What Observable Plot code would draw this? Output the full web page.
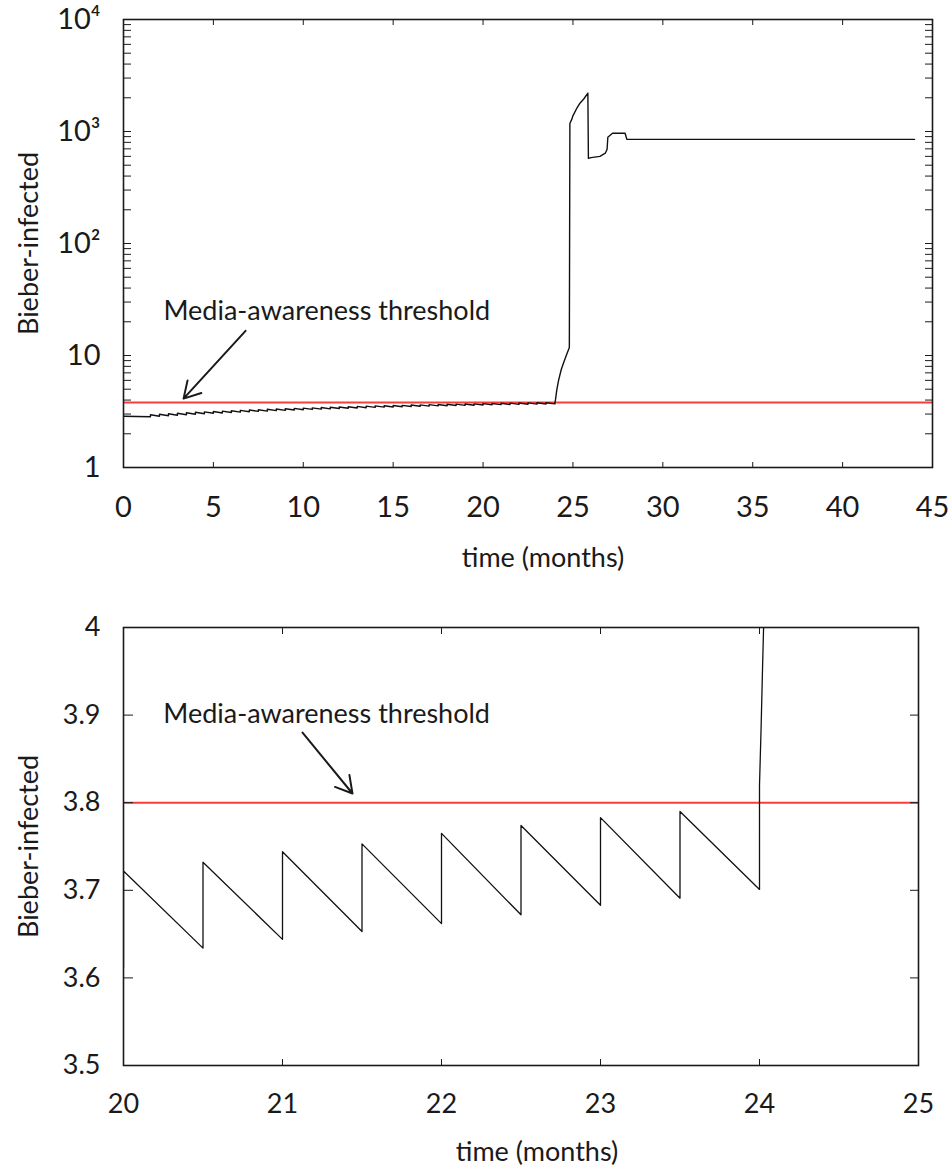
<!DOCTYPE html>
<html>
<head>
<meta charset="utf-8">
<script src="https://cdn.jsdelivr.net/npm/d3@7"></script>
<script src="https://cdn.jsdelivr.net/npm/@observablehq/plot@0.6"></script>
<style>
  body { margin: 0; background: #fff; }
  #chart svg { display: block; }
</style>
</head>
<body>
<div id="chart"></div>
<script>
// ---- data ----
const leadTime = [0];
const leadValue = [2.87];

const toothTime = [1.5, 2, 2.5, 3, 3.5, 4, 4.5, 5, 5.5, 6, 6.5, 7, 7.5, 8, 8.5, 9, 9.5, 10, 10.5, 11, 11.5, 12, 12.5, 13, 13.5, 14, 14.5, 15, 15.5, 16, 16.5, 17, 17.5, 18, 18.5, 19, 19.5, 20, 20.5, 21, 21.5, 22, 22.5, 23, 23.5];
const toothLow = [2.84, 2.87, 2.90, 2.93, 2.96, 2.99, 3.02, 3.05, 3.07, 3.10, 3.12, 3.15, 3.17, 3.19, 3.22, 3.24, 3.26, 3.28, 3.30, 3.32, 3.34, 3.36, 3.38, 3.40, 3.42, 3.44, 3.46, 3.47, 3.49, 3.50, 3.52, 3.53, 3.55, 3.56, 3.58, 3.59, 3.60, 3.612, 3.634, 3.644, 3.653, 3.662, 3.672, 3.683, 3.691];
const toothHigh = [2.96, 2.99, 3.02, 3.05, 3.08, 3.11, 3.14, 3.16, 3.19, 3.21, 3.24, 3.26, 3.28, 3.31, 3.33, 3.35, 3.37, 3.39, 3.41, 3.43, 3.45, 3.47, 3.49, 3.51, 3.53, 3.55, 3.56, 3.58, 3.59, 3.61, 3.62, 3.64, 3.65, 3.67, 3.68, 3.69, 3.702, 3.722, 3.732, 3.744, 3.753, 3.765, 3.774, 3.783, 3.790];

const surgeTime = [24.0, 24.0, 24.01, 24.02, 24.03, 24.1, 24.2, 24.35, 24.5, 24.65, 24.8, 24.83, 24.94, 25.0, 25.22, 25.39, 25.6, 25.83, 25.86, 26.0, 26.5, 26.8, 26.9, 26.94, 27.2, 27.9, 28.0, 44.0];
const surgeValue = [3.701, 3.82, 3.885, 3.96, 4.03, 4.9, 6.0, 7.5, 8.8, 10.2, 11.8, 1180, 1290, 1380, 1620, 1790, 1950, 2200, 575, 585, 600, 640, 695, 890, 965, 965, 850, 850];

const threshold = 3.8;
const annotationText = "Media-awareness threshold";

// tick values / labels
const topXTicks = [0, 5, 10, 15, 20, 25, 30, 35, 40, 45];
const topYMajor = [1, 10, 100, 1000, 10000];
const topYLabels = ["1", "10", "10²", "10³", "10⁴"];
const bottomXTicks = [20, 21, 22, 23, 24, 25];
const bottomXLabels = ["20", "21", "22", "23", "24", "25"];
const bottomYTicks = [3.5, 3.6, 3.7, 3.8, 3.9, 4];
const bottomYLabels = ["3.5", "3.6", "3.7", "3.8", "3.9", "4"];
const xLabel = "time (months)";
const yLabel = "Bieber-infected";

// annotation anchors (data coordinates)
const topNote = [{t: 2.22, v: 24.8, text: annotationText}];
const topArrow = [{t1: 6.79, v1: 16.6, t2: 3.34, v2: 4.12}];
const bottomNote = [{t: 20.25, v: 3.9014, text: annotationText}];
const bottomArrow = [{t1: 21.126, v1: 3.880, t2: 21.44, v2: 3.8105}];

// ---- build table ----
const points = [];
leadTime.forEach((t, i) => points.push({t, v: leadValue[i]}));
toothTime.forEach((t, i) => {
  points.push({t, v: toothLow[i]});
  points.push({t, v: toothHigh[i]});
});
surgeTime.forEach((t, i) => points.push({t, v: surgeValue[i]}));

// minor log ticks
const topYMinor = [];
for (const d of [1, 10, 100, 1000]) for (let m = 1; m <= 9; m++) topYMinor.push(m * d);
topYMinor.push(10000);

const FONT = "Lato, 'Open Sans', sans-serif";
const INK = "#1a1a1a";

const topChart = Plot.plot({
  width: 952, height: 590,
  marginTop: 19, marginBottom: 123, marginLeft: 123, marginRight: 20,
  style: {fontFamily: FONT, color: INK, background: "white", overflow: "visible"},
  x: {domain: [0, 45]},
  y: {type: "log", domain: [1, 10000]},
  marks: [
    Plot.ruleY([threshold], {stroke: "#ff3a3a", strokeWidth: 2}),
    Plot.line(points, {x: "t", y: "v", stroke: "#111", strokeWidth: 1.4, clip: true}),
    Plot.frame({stroke: INK, strokeWidth: 1.6}),
    Plot.axisX({anchor: "bottom", ticks: topXTicks, tickSize: -5, fill: "none", label: null}),
    Plot.axisX({anchor: "top", ticks: topXTicks, tickSize: -5, fill: "none", label: null}),
    Plot.axisX({anchor: "bottom", ticks: topXTicks, tickSize: 0, tickPadding: 29, fontSize: 29, label: null}),
    Plot.axisY({anchor: "left", ticks: topYMinor, tickSize: -8, fill: "none", label: null}),
    Plot.axisY({anchor: "right", ticks: topYMinor, tickSize: -8, fill: "none", label: null}),
    Plot.axisY({anchor: "left", ticks: topYMajor, tickSize: 0, tickPadding: 23, fontSize: 29,
      tickFormat: d => topYLabels[topYMajor.indexOf(d)], label: null}),
    Plot.text(topNote, {x: "t", y: "v", text: "text", textAnchor: "start", fontSize: 27, fill: INK}),
    Plot.arrow(topArrow, {x1: "t1", y1: "v1", x2: "t2", y2: "v2", stroke: INK, strokeWidth: 2, headLength: 14}),
    Plot.text([xLabel], {frameAnchor: "bottom", dy: 99, dx: 15, lineAnchor: "bottom", fontSize: 27, fill: INK}),
    Plot.text([yLabel], {frameAnchor: "left", dx: -94, rotate: -90, textAnchor: "middle", lineAnchor: "middle", fontSize: 27, fill: INK})
  ]
});

const bottomChart = Plot.plot({
  width: 952, height: 581,
  marginTop: 37, marginBottom: 106, marginLeft: 123, marginRight: 34,
  style: {fontFamily: FONT, color: INK, background: "white", overflow: "visible"},
  x: {domain: [20, 25]},
  y: {domain: [3.5, 4]},
  marks: [
    Plot.ruleY([threshold], {stroke: "#ff3a3a", strokeWidth: 2}),
    Plot.line(points, {x: "t", y: "v", stroke: "#111", strokeWidth: 1.3, clip: true}),
    Plot.frame({stroke: INK, strokeWidth: 1.6}),
    Plot.axisX({anchor: "bottom", ticks: bottomXTicks, tickSize: -6, fill: "none", label: null}),
    Plot.axisX({anchor: "top", ticks: bottomXTicks, tickSize: -6, fill: "none", label: null}),
    Plot.axisX({anchor: "bottom", ticks: bottomXTicks, tickSize: 0, tickPadding: 28, fontSize: 27,
      tickFormat: d => bottomXLabels[bottomXTicks.indexOf(d)], label: null}),
    Plot.axisY({anchor: "left", ticks: bottomYTicks, tickSize: -10, fill: "none", label: null}),
    Plot.axisY({anchor: "right", ticks: bottomYTicks, tickSize: -9, fill: "none", label: null}),
    Plot.axisY({anchor: "left", ticks: bottomYTicks, tickSize: 0, tickPadding: 23, fontSize: 27,
      tickFormat: d => bottomYLabels[bottomYTicks.indexOf(d)], label: null}),
    Plot.text(bottomNote, {x: "t", y: "v", text: "text", textAnchor: "start", fontSize: 27, fill: INK}),
    Plot.arrow(bottomArrow, {x1: "t1", y1: "v1", x2: "t2", y2: "v2", stroke: INK, strokeWidth: 2, headLength: 14}),
    Plot.text([xLabel], {frameAnchor: "bottom", dy: 95, dx: 16, lineAnchor: "bottom", fontSize: 27, fill: INK}),
    Plot.text([yLabel], {frameAnchor: "left", dx: -94, rotate: -90, textAnchor: "middle", lineAnchor: "middle", fontSize: 27, fill: INK})
  ]
});

const root = document.getElementById("chart");
root.appendChild(topChart);
root.appendChild(bottomChart);
</script>
</body>
</html>
